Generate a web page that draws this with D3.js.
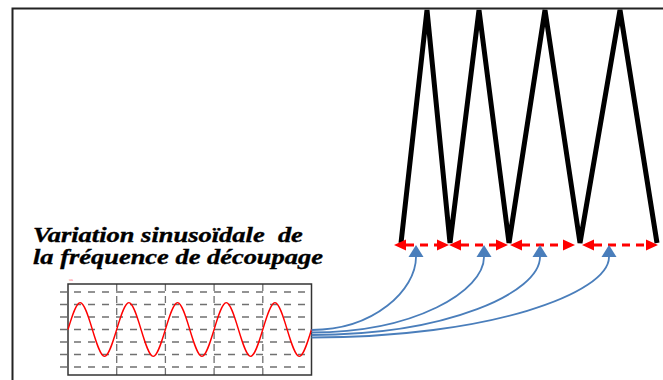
<!DOCTYPE html>
<html><head><meta charset="utf-8">
<script src="https://cdn.jsdelivr.net/npm/d3@7/dist/d3.min.js"></script>
<style>body{margin:0;background:#fff}svg{display:block}
.title{font-family:"Liberation Serif","Times New Roman",serif;font-weight:bold;font-style:italic;white-space:pre}</style>
</head><body>
<script>
// Triangle carrier (time units, normalized amplitude)
const triT = [0, 26, 49, 78, 108, 144, 179, 219, 256];
const triV = [0, 1, 0, 1, 0, 1, 0, 1, 0];
// Red double arrows (period spans, same time units)
const perStart = [-7, 48, 109, 181];
const perEnd   = [48, 107, 174, 257];
// Blue arrow targets (time units)
const blueTarget = [15, 83, 139, 208];
// Sinusoidal modulation: samples at quarter periods (periods)
const sineT = [0,0.25,0.5,0.75,1,1.25,1.5,1.75,2,2.25,2.5,2.75,3,3.25,3.5,3.75,4,4.25,4.5,4.75,5];
const sineV = [0,2.15,0,-2.15,0,2.15,0,-2.15,0,2.15,0,-2.15,0,2.15,0,-2.15,0,2.15,0,-2.15,0];
const gridY = [-3,-2,-1,0,1,2,3];
const gridX = [1,2,3,4];
const titleLines = ["Variation sinusoïdale  de", "la fréquence de découpage"];
const titleWidths = [270, 290];

const W = 663, H = 380;
const svg = d3.select("body").append("svg").attr("width", W).attr("height", H);

// frame
svg.append("rect").attr("x", 12.5).attr("y", 8.5).attr("width", 700).attr("height", 400)
  .attr("fill", "none").attr("stroke", "#222").attr("stroke-width", 2);

const defs = svg.append("defs");
defs.append("clipPath").attr("id", "clipTop").append("rect")
  .attr("x", 0).attr("y", 9).attr("width", W).attr("height", H);

// triangle wave
const x = d3.scaleLinear().domain([0, 256]).range([401, 657]);
const y = d3.scaleLinear().domain([0, 1]).range([243, 10]);
const tri = triT.map((t, i) => [t, triV[i]]);
svg.append("path").attr("clip-path", "url(#clipTop)")
  .attr("d", d3.line().x(d => x(d[0])).y(d => y(d[1]))(tri))
  .attr("fill", "none").attr("stroke", "#000").attr("stroke-width", 5)
  .attr("stroke-linejoin", "bevel");

// red double arrows
const ay = 245, ah = 12, aw = 5.5;
const red = svg.append("g");
perStart.forEach((s, i) => {
  const x0 = x(s), x1 = x(perEnd[i]);
  red.append("line").attr("x1", x0 + ah).attr("x2", x1 - ah).attr("y1", ay).attr("y2", ay)
    .attr("stroke", "#ff0000").attr("stroke-width", 3.2).attr("stroke-dasharray", "8,6");
  red.append("path").attr("d", `M${x0},${ay}L${x0 + ah},${ay - aw}L${x0 + ah},${ay + aw}Z`).attr("fill", "#ff0000");
  red.append("path").attr("d", `M${x1},${ay}L${x1 - ah},${ay - aw}L${x1 - ah},${ay + aw}Z`).attr("fill", "#ff0000");
});

// oscilloscope
const ox = d3.scaleLinear().domain([0, 5]).range([68, 311.5]);
const oy = d3.scaleLinear().domain([-3.64, 3.64]).range([375, 284]);
const osc = svg.append("g");
osc.selectAll(".hg").data(gridY).join("line")
  .attr("x1", 60).attr("x2", 308).attr("y1", d => oy(d)).attr("y2", d => oy(d))
  .attr("stroke", "#707070").attr("stroke-width", 1.3).attr("stroke-dasharray", "7,7");
osc.selectAll(".vg").data(gridX).join("line")
  .attr("x1", d => ox(d)).attr("x2", d => ox(d)).attr("y1", oy(3.64)).attr("y2", oy(-3.64) + 3)
  .attr("stroke", "#707070").attr("stroke-width", 1.3).attr("stroke-dasharray", "7,5");
osc.append("rect").attr("x", ox(0)).attr("y", oy(3.64)).attr("width", ox(5) - ox(0)).attr("height", oy(-3.64) - oy(3.64))
  .attr("fill", "none").attr("stroke", "#333").attr("stroke-width", 1.5);
osc.append("text").attr("x", ox(0) + 1).attr("y", oy(3.64) - 3).attr("font-size", 3.5)
  .attr("fill", "#f66").attr("font-family", "Liberation Sans").text("ua");
const sine = sineT.map((t, i) => [t, sineV[i]]);
osc.append("path").attr("d", d3.line().x(d => ox(d[0])).y(d => oy(d[1])).curve(d3.curveNatural)(sine))
  .attr("fill", "none").attr("stroke", "#ff0000").attr("stroke-width", 1.4);

// blue curved arrows
const blue = "#4a7ebb";
const tipY = 245, baseY = 257, bw = 7.5;
const bg = svg.append("g");
blueTarget.forEach((t, i) => {
  const xs = ox(5), ys = 330 + i * 2.5;
  const xe = x(t);
  const dx = xe - xs, dy = ys - baseY;
  const p = d3.path();
  p.moveTo(xs, ys);
  p.bezierCurveTo(xs + dx * 0.6, ys, xe, baseY + dy * 0.45, xe, baseY);
  bg.append("path").attr("d", p.toString()).attr("fill", "none").attr("stroke", blue).attr("stroke-width", 1.8);
  bg.append("path").attr("d", `M${xe},${tipY}L${xe - bw},${baseY}L${xe + bw},${baseY}Z`).attr("fill", blue);
});

// title (horizontally stretched like the source picture)
titleLines.forEach((s, i) => {
  const t = svg.append("text").attr("class", "title").attr("font-size", 20).attr("fill", "#000")
    .attr("stroke", "#000").attr("stroke-width", 0.35)
    .attr("x", 0).attr("y", 0).text(s);
  const natural = t.node().getComputedTextLength();
  const k = titleWidths[i] / natural;
  t.attr("transform", `translate(33,${241.5 + i * 22}) scale(${k},1)`);
});
</script>
</body></html>
